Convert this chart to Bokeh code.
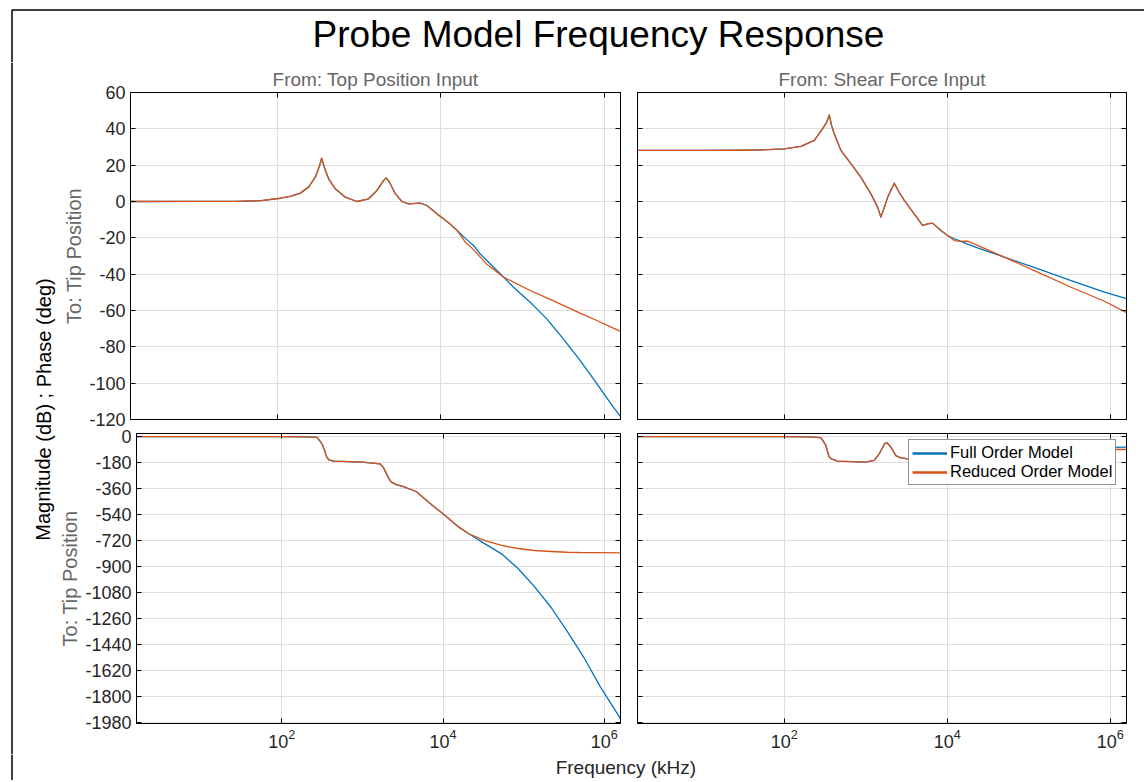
from bokeh.plotting import figure
from bokeh.models import (Range1d, FixedTicker, LogAxis, LinearAxis, Legend, LegendItem, Span,
                          CustomJSTickFormatter, Title)
from bokeh.layouts import row, column
from bokeh.embed import file_html
from bokeh.resources import INLINE
from bokeh.core.properties import value

# ---------------- data ----------------
TITLE = "Probe Model Frequency Response"
COL_TITLES = ["From: Top Position Input", "From: Shear Force Input"]
ROW_LABEL = "To: Tip Position"
Y_LABEL = "Magnitude (dB) ; Phase (deg)"
X_LABEL = "Frequency  (kHz)"
SERIES = ["Full Order Model", "Reduced Order Model"]

X_RANGE = (1.585, 1585000.0)
X_TICKS = [1e2, 1e4, 1e6]
MAG_RANGE = (-120, 60)
MAG_TICKS = [-120, -100, -80, -60, -40, -20, 0, 20, 40, 60]
PHASE_RANGE = (-1989, 21)
PHASE_TICKS = [-1980, -1800, -1620, -1440, -1260, -1080, -900, -720, -540, -360, -180, 0]

# Top-left: magnitude, Top Position Input -> Tip Position (kHz, dB)
f_mag_top = [1.585, 10, 31.6, 63.1, 108.4, 143.6, 190.5, 239.9, 290.4, 328.1, 346.7, 374.1,
             422.7, 510.5, 676.1, 939.7, 1303, 1652, 1950, 2138, 2355, 2767, 3334, 4027,
             5585, 6745, 8954, 11090, 12880, 15850, 19950, 25120, 30200, 36560, 58480,
             77620, 123900, 198200, 316200, 507000, 812800, 1294000, 1585000]
mag_top_full = [0.0, 0.05, 0.1, 0.5, 1.8, 2.8, 4.6, 7.9, 13.4, 19.8, 23.8, 18.9,
                12.5, 7.0, 2.4, 0.0, 1.5, 6.1, 11.0, 13.0, 10.6, 4.3, 0.0, -1.3,
                -0.9, -2.2, -6.8, -9.9, -12.3, -16.0, -20.3, -24.2, -28.8, -32.5, -41.6,
                -47.2, -55.4, -64.6, -75.6, -87.5, -100.3, -113.2, -118.3]
mag_top_red = [0.0, 0.05, 0.1, 0.5, 1.8, 2.8, 4.6, 7.9, 13.4, 19.8, 23.8, 18.9,
               12.5, 7.0, 2.4, 0.0, 1.5, 6.1, 11.0, 13.0, 10.6, 4.3, 0.0, -1.3,
               -0.9, -2.2, -6.8, -9.9, -12.3, -16.0, -22.3, -26.5, -30.5, -34.5, -41.6,
               -44.4, -49.0, -53.1, -57.2, -61.4, -65.5, -69.7, -71.5]

# Top-right: magnitude, Shear Force Input -> Tip Position (kHz, dB)
f_mag_shear = [1.585, 10, 31.6, 63.1, 100, 160.3, 234.4, 295.1, 331.1, 357.3, 380.2, 411.1,
               496.6, 660.7, 871, 1159, 1400, 1535, 1698, 1862, 2239, 2570, 2972, 3936,
               4989, 5754, 6607, 8375, 10120, 12220, 14790, 17780, 23600, 50120, 128800,
               331100, 851100, 1585000]
mag_shear_full = [28.1, 28.1, 28.2, 28.5, 29.0, 30.3, 33.6, 40.0, 43.5, 47.7, 42.0, 37.3,
                  28.1, 20.7, 13.4, 4.2, -3.1, -8.6, -3.0, 2.4, 10.1, 5.1, 0.6, -6.8,
                  -13.2, -12.3, -11.9, -16.0, -18.7, -20.5, -22.0, -23.5, -25.5, -30.6, -37.0,
                  -43.5, -49.9, -53.5]
mag_shear_red = [28.1, 28.1, 28.2, 28.5, 29.0, 30.3, 33.6, 40.0, 43.5, 47.7, 42.0, 37.3,
                 28.1, 20.7, 13.4, 4.2, -3.1, -8.6, -3.0, 2.4, 10.1, 5.1, 0.6, -6.8,
                 -13.2, -12.3, -11.9, -16.0, -18.7, -21.5, -21.9, -21.8, -24.2, -30.6, -38.9,
                 -47.2, -54.9, -61.2]

# Bottom-left: phase, Top Position Input -> Tip Position (kHz, deg)
f_ph_top = [1.585, 10, 100, 199.5, 275.4, 316.2, 341.2, 359.7, 384.6, 442.6, 1000, 1648,
            1811, 1995, 2138, 2291, 2630, 3162, 4634, 7413, 10000, 15700, 20890, 33110,
            53210, 85110, 135800, 218800, 346700, 555900, 891300, 1585000]
ph_top_full = [0, 0, -1, -3, -6, -51, -97, -139, -161, -171, -178, -189,
               -212, -259, -293, -316, -333, -346, -381, -478, -536, -628, -674, -744,
               -813, -915, -1040, -1185, -1350, -1530, -1735, -1955]
ph_top_red = [0, 0, -1, -3, -6, -51, -97, -139, -161, -171, -178, -189,
              -212, -259, -293, -316, -333, -346, -381, -478, -536, -628, -674, -721,
              -755, -776, -790, -797, -802, -804, -805, -806]

# Bottom-right: phase, Shear Force Input -> Tip Position (kHz, deg)
f_ph_shear = [1.585, 10, 100, 199.5, 281.8, 323.6, 338.8, 354.8, 380.2, 451.9, 1000, 1271,
              1466, 1585, 1698, 1820, 2042, 2344, 2692, 3266, 4169, 5012, 5754, 6607,
              8318, 12590, 19950, 39810, 100000, 316200, 1000000, 1585000]
ph_shear_full = [0, 0, -1, -3, -8, -60, -100, -140, -155, -171, -177, -165,
                 -120, -85, -51, -42, -74, -132, -148, -155, -152, -75, -105, -160,
                 -152, -140, -122, -102, -88, -80, -75, -74]
ph_shear_red = [0, 0, -1, -3, -8, -60, -100, -140, -155, -171, -177, -165,
                -120, -85, -51, -42, -74, -132, -148, -155, -152, -75, -105, -160,
                -152, -132, -108, -95, -91, -90, -90, -90]

# ---------------- styles ----------------
FONT = "Liberation Sans"
BLUE = "#0072BD"
RED = "#D95319"
GRID = "#dedede"
TXT = "#262626"
GRAY = "#666666"
LW = 1.3
W, H = 1144, 780


def style_axis(ax, show, linear):
    ax.axis_line_color = "black"
    ax.axis_line_width = 1
    ax.major_tick_in = 5
    ax.major_tick_out = 0
    ax.major_tick_line_color = "black"
    ax.minor_tick_line_color = None
    ax.major_label_text_font = FONT
    ax.major_label_text_color = TXT
    if show:
        ax.major_label_text_font_size = "18px"
        ax.major_label_standoff = 5
        if linear:
            ax.formatter = CustomJSTickFormatter(code="return tick.toString()")
    else:
        ax.formatter = CustomJSTickFormatter(code="return ''")
        ax.major_label_text_font_size = "1px"
        ax.major_label_standoff = 0


def make_panel(width, height, yr, yticks, mbl, mbr, mbt, mbb, xlab, ylab,
               row_label=None, col_title=None):
    p = figure(width=width, height=height, x_axis_type="log",
               x_range=Range1d(*X_RANGE), y_range=Range1d(*yr), title=None,
               output_backend="svg", toolbar_location=None,
               min_border_left=mbl, min_border_right=mbr,
               min_border_top=mbt, min_border_bottom=mbb,
               background_fill_color="white", border_fill_color="white",
               outline_line_color="black", outline_line_width=1)
    p.add_layout(LogAxis(), "above")
    p.add_layout(LinearAxis(), "right")
    xt = FixedTicker(ticks=X_TICKS)
    yt = FixedTicker(ticks=yticks)
    for ax in p.below + p.above:
        ax.ticker = xt
    for ax in p.left + p.right:
        ax.ticker = yt
    for ax in p.below:
        style_axis(ax, xlab, False)
    for ax in p.above:
        style_axis(ax, False, False)
    for ax in p.left:
        style_axis(ax, ylab, True)
    for ax in p.right:
        style_axis(ax, False, True)
    p.xgrid.ticker = xt
    p.ygrid.ticker = yt
    p.grid.grid_line_color = GRID
    p.grid.grid_line_width = 1
    if row_label:
        ax = p.left[0]
        ax.axis_label = row_label
        ax.axis_label_text_font = FONT
        ax.axis_label_text_font_size = "20px"
        ax.axis_label_text_font_style = "normal"
        ax.axis_label_text_color = GRAY
        ax.axis_label_standoff = 1
    if col_title:
        p.title = Title(text=col_title, align="center", text_font=FONT, text_font_size="19px",
                        text_font_style="normal", text_color=GRAY, standoff=5, offset=0)
    return p


def canvas(x0, x1, y0, y1):
    # helper figure whose data units equal page pixels (for titles / labels)
    p = figure(width=x1 - x0, height=y1 - y0, x_range=Range1d(x0, x1), y_range=Range1d(y1, y0),
               title=None, output_backend="svg", toolbar_location=None, min_border=0,
               x_axis_location=None, y_axis_location=None, outline_line_color=None,
               background_fill_color="white", border_fill_color="white")
    p.grid.visible = False
    return p


# ---------------- panels ----------------
SIDE_W = 56
TOP_H = 62
MID = 429
tl = make_panel(628 - SIDE_W, MID - TOP_H, MAG_RANGE, MAG_TICKS, 130 - SIDE_W, 8, 92 - TOP_H,
                MID - 419, False, True, ROW_LABEL, COL_TITLES[0])
tr = make_panel(W - 628, MID - TOP_H, MAG_RANGE, MAG_TICKS, 9, W - 1126, 92 - TOP_H,
                MID - 419, False, False, None, COL_TITLES[1])
bl = make_panel(628 - SIDE_W, 754 - MID, PHASE_RANGE, PHASE_TICKS, 130 - SIDE_W, 8, 433 - MID, 31,
                True, True, ROW_LABEL)
br = make_panel(W - 628, 754 - MID, PHASE_RANGE, PHASE_TICKS, 9, W - 1126, 433 - MID, 31,
                True, False)

for p, f, full, red in [(tl, f_mag_top, mag_top_full, mag_top_red),
                        (tr, f_mag_shear, mag_shear_full, mag_shear_red),
                        (bl, f_ph_top, ph_top_full, ph_top_red),
                        (br, f_ph_shear, ph_shear_full, ph_shear_red)]:
    p.line(f, full, line_color=BLUE, line_width=LW, line_join="round")
    p.line(f, red, line_color=RED, line_width=LW, line_join="round")

# legend (proxy renderers with thicker sample lines, no visible data)
nan = float("nan")
lf = br.line(x=[nan], y=[nan], line_color=BLUE, line_width=2.6)
lr = br.line(x=[nan], y=[nan], line_color=RED, line_width=2.6)
leg = Legend(items=[LegendItem(label=SERIES[0], renderers=[lf]),
                    LegendItem(label=SERIES[1], renderers=[lr])],
             location=(271, 238), margin=0, padding=3, spacing=0,
             glyph_width=35, glyph_height=18, label_height=18, label_standoff=3,
             label_text_font=FONT, label_text_font_size="16.5px", label_text_color="black",
             border_line_color=TXT, border_line_width=1,
             background_fill_color="white", background_fill_alpha=1.0)
br.add_layout(leg, "center")

# ---------------- header / side / footer texts ----------------
hdr = canvas(0, W, 0, TOP_H)
hdr.text(x=[598], y=[34], text=[TITLE], text_font=value(FONT), text_font_size="37px",
         text_align="center", text_baseline="middle", text_color="black")
# outer figure border (top edge runs off the right side, start of left edge)
hdr.line(x=[W + 60, 11.5, 11.5], y=[9.5, 9.5, TOP_H + 60], line_color="black", line_width=1.5)

side = canvas(0, SIDE_W, TOP_H, 754)
side.text(x=[43], y=[409], text=[Y_LABEL], text_font=value(FONT), text_font_size="20px",
          angle=1.5707963, text_align="center", text_baseline="middle", text_color="black")
side.add_layout(Span(location=11.5, dimension="height", line_color="black", line_width=1.5))

ftr = canvas(0, W, 754, H)
ftr.text(x=[628], y=[767], text=[X_LABEL], text_font=value(FONT), text_font_size="19px",
         text_align="center", text_baseline="middle", text_color=TXT)
ftr.add_layout(Span(location=11.5, dimension="height", line_color="black", line_width=1.5))

grid = column(row(tl, tr, spacing=0), row(bl, br, spacing=0), spacing=0)
layout = column(hdr, row(side, grid, spacing=0), ftr, spacing=0)

open("out.html", "w").write(file_html(layout, INLINE))
